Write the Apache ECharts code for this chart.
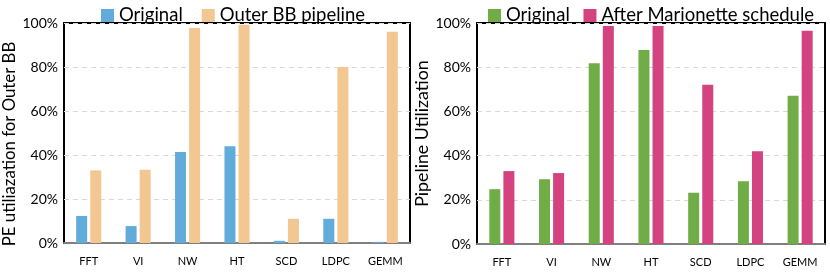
<!DOCTYPE html>
<html><head><meta charset="utf-8">
<script src="https://cdn.jsdelivr.net/npm/echarts@6/dist/echarts.min.js"></script>
<style>html,body{margin:0;padding:0;background:#fff}#c{width:830px;height:274px}</style>
</head><body><div id="c"></div>
<script>
var categories = ['FFT','VI','NW','HT','SCD','LDPC','GEMM'];
var leftOriginal = [12.3, 7.7, 41.4, 44, 1, 11, 0.5];
var leftOuterBB = [33, 33.3, 97.7, 99.2, 11, 80, 96];
var rightOriginal = [24.8, 29.3, 81.8, 87.8, 23.2, 28.4, 67.1];
var rightMarionette = [33, 32.1, 98.6, 98.6, 72.1, 42, 96.5];
var yTicks = [0, 20, 40, 60, 80, 100];

var FONT = 'Lato';
function yAxis(gi, name, gap, fs, pad){
  return {gridIndex: gi, type:'value', min:0, max:100, interval:20,
    name: name, nameLocation:'middle', nameGap: gap, nameRotate: 90,
    nameTextStyle:{fontFamily:FONT, fontSize:fs, color:'#000', padding:pad},
    axisLabel:{formatter:function(v){return yTicks.indexOf(v)>=0 ? v+'%' : '';}, fontFamily:FONT, fontSize:14, color:'#000', margin:6},
    axisLine:{show:false}, axisTick:{show:false},
    splitLine:{show:true, lineStyle:{color:'#d9d9d9', type:[5,4], width:1.2}}};
}
function xAxis(gi){
  return {gridIndex: gi, type:'category', data: categories,
    axisLine:{show:true, lineStyle:{color:'#7f7f7f', width:2}}, axisTick:{show:false},
    axisLabel:{fontFamily:FONT, fontSize:11, color:'#000', margin:13}};
}
var chart = echarts.init(document.getElementById('c'), null, {renderer:'canvas'});
chart.setOption({
  animation:false,
  legend:[
    {data:['Original','Outer BB pipeline'], left:96, top:1, itemWidth:13, itemHeight:13, itemGap:19,
     textStyle:{fontFamily:FONT, fontSize:18.5, color:'#000'}, icon:'rect'},
    {data:['Original ','After Marionette schedule'], left:483, top:1, itemWidth:13, itemHeight:13, itemGap:9,
     textStyle:{fontFamily:FONT, fontSize:18.5, color:'#000'}, icon:'rect'}
  ],
  grid:[
    {left:62, top:23, width:348, height:220, show:true, borderColor:'#000', borderWidth:2, backgroundColor:'transparent'},
    {left:477, top:23, width:348, height:221, show:true, borderColor:'#000', borderWidth:2, backgroundColor:'transparent'}
  ],
  xAxis:[xAxis(0), xAxis(1)],
  yAxis:[yAxis(0,'PE utiliazation for Outer BB',46,16.8,[0,22,0,0]), yAxis(1,'Pipeline Utilization',45,17.8,[0,0,0,0])],
  series:[
    {name:'Original', type:'bar', xAxisIndex:0, yAxisIndex:0, data:leftOriginal, barWidth:11, barGap:'28%', itemStyle:{color:'#62acdb'}},
    {name:'Outer BB pipeline', type:'bar', xAxisIndex:0, yAxisIndex:0, data:leftOuterBB, barWidth:11, barGap:'28%', itemStyle:{color:'#f3c791'}},
    {name:'Original ', type:'bar', xAxisIndex:1, yAxisIndex:1, data:rightOriginal, barWidth:11, barGap:'28%', itemStyle:{color:'#70ad47'}},
    {name:'After Marionette schedule', type:'bar', xAxisIndex:1, yAxisIndex:1, data:rightMarionette, barWidth:11, barGap:'28%', itemStyle:{color:'#d44380'}}
  ]
});
</script></body></html>
